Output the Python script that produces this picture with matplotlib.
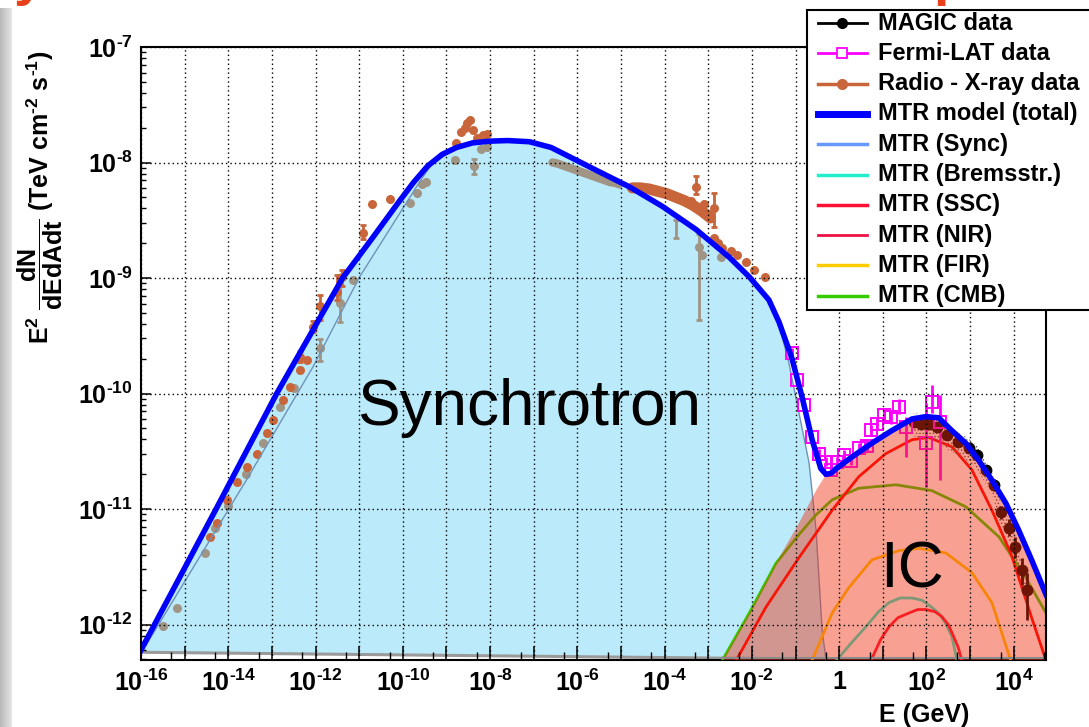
import numpy as np
import matplotlib
matplotlib.use('Agg')
import matplotlib.pyplot as plt
from matplotlib.lines import Line2D
from matplotlib.patches import Rectangle
from matplotlib.ticker import FixedLocator, NullFormatter

plt.rcParams['font.family'] = ['Liberation Sans', 'DejaVu Sans']
plt.rcParams['mathtext.fontset'] = 'custom'
plt.rcParams['mathtext.rm'] = 'Liberation Sans'
plt.rcParams['mathtext.bf'] = 'Liberation Sans:bold'
plt.rcParams['mathtext.it'] = 'Liberation Sans:italic'
plt.rcParams['hatch.color'] = '#444444'
plt.rcParams['hatch.linewidth'] = 0.7

# ---------------- data (log10 E [GeV], log10 E^2 dN/dE [TeV cm^-2 s^-1]) ----------------
total_logE = [-16.0, -14.28, -12.89, -11.38, -10.69, -10.07, -9.75, -9.43, -9.1, -8.77, -8.4, -8.0,
              -7.6, -7.1, -6.6, -6.18, -5.5, -4.81, -4.05, -3.28, -2.52, -2.06, -1.61, -1.38, -1.19,
              -1.08, -0.85, -0.62, -0.42, -0.30, -0.18, -0.07, 0.29, 0.75, 1.21, 1.67, 1.99, 2.28,
              2.58, 2.90, 3.20, 3.50, 3.82, 4.11, 4.41, 4.74]
total_logF = [-12.22, -11.00, -10.00, -9.00, -8.65, -8.33, -8.17, -8.03, -7.93, -7.87, -7.83, -7.815,
              -7.81, -7.82, -7.87, -7.95, -8.08, -8.21, -8.38, -8.58, -8.82, -8.99, -9.19, -9.38, -9.58,
              -9.70, -10.03, -10.40, -10.65, -10.70, -10.69, -10.65, -10.55, -10.43, -10.32, -10.22, -10.20,
              -10.21, -10.32, -10.43, -10.58, -10.75, -10.95, -11.18, -11.44, -11.74]

sync_logE = [-16.0, -13.57, -12.06, -10.99, -10.07, -9.55, -9.34, -8.77, -8.4, -8.0, -7.6, -7.1, -6.6,
             -6.18, -5.5, -4.81, -4.05, -3.28, -2.52, -2.06, -1.61, -1.38, -1.15, -0.92, -0.69,
             -0.53, -0.39, -0.30]
sync_logF = [-12.25, -10.74, -9.77, -8.99, -8.44, -8.13, -8.02, -7.87, -7.83, -7.815, -7.81, -7.82, -7.87,
             -7.95, -8.08, -8.21, -8.38, -8.58, -8.82, -8.99, -9.19, -9.40, -9.74, -10.17, -10.60,
             -11.18, -12.05, -12.31]

ic_logE = [-2.68, -2.06, -1.45, -0.92, -0.53, -0.30, -0.18, -0.07, 0.29, 0.75, 1.21, 1.67, 1.99,
           2.28, 2.58, 2.90, 3.20, 3.50, 3.82, 4.11, 4.41, 4.74]
ic_logF = [-12.31, -11.90, -11.47, -11.12, -10.84, -10.70, -10.69, -10.65, -10.55, -10.43, -10.32,
           -10.22, -10.20, -10.21, -10.32, -10.43, -10.58, -10.75, -10.95, -11.18, -11.44, -11.74]

cmb_logE = [-2.68, -2.06, -1.45, -0.92, -0.53, -0.16, 0.45, 1.30, 2.12, 2.90, 3.66, 4.27, 4.74]
cmb_logF = [-12.31, -11.90, -11.47, -11.22, -11.05, -10.92, -10.82, -10.79, -10.84, -10.98, -11.24, -11.59, -11.90]

ssc_logE = [-2.36, -1.68, -0.92, -0.16, 0.45, 1.07, 1.67, 2.05, 2.58, 3.04, 3.50, 3.95, 4.41, 4.74]
ssc_logF = [-12.31, -11.85, -11.42, -11.01, -10.72, -10.52, -10.40, -10.38, -10.46, -10.66, -11.01,
            -11.40, -11.94, -12.31]

fir_logE = [-0.62, -0.16, 0.22, 0.75, 1.37, 1.83, 2.44, 3.04, 3.50, 3.93]
fir_logF = [-12.31, -11.90, -11.68, -11.44, -11.36, -11.34, -11.38, -11.55, -11.81, -12.31]

brems_logE = [-0.06, 0.30, 0.61, 0.90, 1.14, 1.40, 1.67, 1.90, 2.12, 2.30, 2.44, 2.58, 2.70]
brems_logF = [-12.31, -12.15, -12.02, -11.89, -11.81, -11.77, -11.77, -11.79, -11.85, -11.91, -11.99, -12.10, -12.31]

nir_logE = [0.73, 0.95, 1.14, 1.35, 1.60, 1.80, 1.99, 2.20, 2.35, 2.50, 2.63, 2.73, 2.81]
nir_logF = [-12.31, -12.13, -12.02, -11.94, -11.90, -11.87, -11.87, -11.89, -11.93, -12.00, -12.11, -12.20, -12.31]

radio_logE = [-14.42, -14.26, -14.03, -13.80, -13.57, -13.35, -13.12, -12.98, -12.75, -12.59, -12.36,
              -12.20, -12.36, -12.06, -11.90, -11.51, -11.40, -10.92, -10.71, -10.30,
              -8.77, -8.66, -8.58, -8.52, -8.47, -8.40, -8.31, -8.17, -8.08,
              -3.40, -3.28, -3.20, -3.10, -3.00, -2.87, -2.87, -2.78, -2.68, -2.48, -2.34, -2.13,
              -1.95, -1.70]
radio_logF = [-11.24, -11.12, -10.92, -10.77, -10.64, -10.52, -10.34, -10.23, -10.06, -9.94, -9.80,
              -9.71, -9.68, -9.42, -9.24, -9.12, -8.99, -8.61, -8.36, -8.32,
              -7.83, -7.74, -7.70, -7.66, -7.63, -7.72, -7.79, -7.76, -7.75,
              -8.33, -8.21, -8.40, -8.36, -8.45, -8.39, -8.65, -8.70, -8.74, -8.77, -8.80, -8.86,
              -8.93, -8.99]
radio_band_logE = [-4.74, -4.55, -4.35, -4.15, -3.95, -3.75, -3.55, -3.35, -3.15, -2.95]
radio_band_logF = [-8.22, -8.22, -8.23, -8.25, -8.27, -8.30, -8.33, -8.37, -8.42, -8.48]
radio_err_logE = [-12.36, -12.06, -11.90, -11.51, -11.40, -10.92, -3.28, -2.87]
radio_err_lo = [-9.73, -9.47, -9.36, -9.19, -9.07, -8.66, -8.27, -8.56]
radio_err_hi = [-9.63, -9.37, -9.15, -8.97, -8.93, -8.54, -8.12, -8.26]

grey_logE = [-15.50, -15.18, -14.54, -14.31, -14.00, -13.60, -13.20, -12.82, -12.50, -11.90, -11.45,
             -11.15, -9.84, -9.68, -9.55, -9.46, -8.81, -8.36, -8.20, -8.08,
             -3.21, -3.15, -2.70]
grey_logF = [-12.01, -11.86, -11.38, -11.16, -10.97, -10.70, -10.43, -10.12, -9.95, -9.61, -9.22,
             -9.02, -8.35, -8.26, -8.19, -8.17, -7.98, -8.03, -7.88, -7.87,
             -8.73, -8.80, -8.82]
grey_band_logE = [-6.57, -6.45, -6.30, -6.15, -6.00, -5.85, -5.70, -5.55, -5.40, -5.25, -5.10, -5.04]
grey_band_logF = [-8.00, -8.01, -8.03, -8.05, -8.07, -8.09, -8.11, -8.13, -8.15, -8.17, -8.18, -8.19]
grey_err_logE = [-11.90, -11.45, -8.36, -3.73, -3.21]
grey_err_lo = [-9.72, -9.38, -8.10, -8.65, -9.36]
grey_err_hi = [-9.53, -9.07, -7.97, -8.50, -8.62]

fermi_logE = [-1.08, -0.97, -0.81, -0.62, -0.46, -0.30, -0.19, -0.05, 0.11, 0.27, 0.45, 0.64, 0.73,
              0.86, 1.03, 1.19, 1.37, 1.53, 1.99, 2.12, 2.30]
fermi_logF = [-9.65, -9.88, -10.10, -10.38, -10.52, -10.59, -10.66, -10.59, -10.53, -10.58, -10.47,
              -10.45, -10.32, -10.26, -10.19, -10.20, -10.12, -10.29, -10.43, -10.07, -10.25]
fermi_err_lo = [-9.69, -9.92, -10.14, -10.42, -10.56, -10.63, -10.70, -10.63, -10.57, -10.62, -10.51,
                -10.50, -10.37, -10.31, -10.25, -10.26, -10.18, -10.55, -10.81, -10.17, -10.75]
fermi_err_hi = [-9.61, -9.84, -10.06, -10.34, -10.48, -10.55, -10.62, -10.55, -10.49, -10.54, -10.43,
                -10.40, -10.27, -10.21, -10.13, -10.14, -10.05, -10.20, -10.08, -9.93, -10.01]

magic_logE = [1.71, 1.88, 2.05, 2.24, 2.47, 2.73, 2.97, 3.15, 3.36, 3.54, 3.70, 3.89, 4.04, 4.18, 4.30]
magic_logF = [-10.25, -10.26, -10.26, -10.29, -10.36, -10.42, -10.47, -10.53, -10.66, -10.79, -11.03,
              -11.16, -11.33, -11.53, -11.70]
magic_err_lo = [-10.28, -10.29, -10.29, -10.32, -10.39, -10.45, -10.50, -10.57, -10.70, -10.84, -11.09,
                -11.23, -11.42, -11.66, -11.96]
magic_err_hi = [-10.22, -10.23, -10.23, -10.26, -10.33, -10.39, -10.44, -10.49, -10.62, -10.74, -10.97,
                -11.09, -11.24, -11.42, -11.55]

HYPH = '\u2010'
xtick_exps = list(range(-16, 5))
xtick_labels = [('$\\mathbf{1}$' if n == 0 else
                 r'$\mathbf{10^{%s}}$' % (str(n).replace('-', HYPH))) if n % 2 == 0 else ''
                for n in xtick_exps]
ytick_exps = list(range(-12, -6))
ytick_labels = [r'$\mathbf{10^{%s}}$' % (str(n).replace('-', HYPH)) for n in ytick_exps]

legend_labels = ['MAGIC data', 'Fermi-LAT data', 'Radio - X-ray data', 'MTR model (total)', 'MTR (Sync)',
                 'MTR (Bremsstr.)', 'MTR (SSC)', 'MTR (NIR)', 'MTR (FIR)', 'MTR (CMB)']


def p(a):
    return 10.0 ** np.asarray(a, dtype=float)


def gm(lo, hi):
    return np.sqrt(p(lo) * p(hi))


W, H = 1089, 727
fig = plt.figure(figsize=(W / 100, H / 100), dpi=100)
fig.patch.set_facecolor('white')
ax = fig.add_axes([141 / W, 67 / H, 905 / W, 613 / H])
ax.set_xscale('log')
ax.set_yscale('log')
ax.set_xlim(1e-16, 10 ** 4.74)
ax.set_ylim(10 ** -12.307, 1e-7)

BLUE_FILL = '#bbebfa'
SALMON = '#f03010'
C_TOTAL = '#0000ff'
C_SYNC = '#6699ff'
C_BREMS = '#22eecc'
C_SSC = '#ff0000'
C_NIR = '#ff1030'
C_FIR = '#ffcc00'
C_CMB = '#33cc00'
C_RADIO = '#c9653a'
C_GREY = '#a09484'
C_FERMI = '#ff00ff'

# synchrotron filled area: total curve up to where sync separates, then sync tail
te = np.array(total_logE); tf = np.array(total_logF)
se = np.array(sync_logE); sf = np.array(sync_logF)
m1 = te <= -1.38
m2 = se > -1.38
fill_e = np.concatenate([te[m1], se[m2], [se[-1], te[0]]])
fill_f = np.concatenate([tf[m1], sf[m2], [-12.31, -12.24]])
ax.fill(p(fill_e), p(fill_f), color=BLUE_FILL, lw=0, zorder=0.5)
ax.plot(p([te[0], se[-1]]), p([-12.24, -12.30]), color='#9a9a9a', lw=2.2, zorder=0.6)

# data (drawn under the IC fill)
ax.plot(p(grey_band_logE), p(grey_band_logF), color=C_GREY, lw=6, solid_capstyle='round', zorder=1.5)
ax.errorbar(p(grey_err_logE), gm(grey_err_lo, grey_err_hi),
            yerr=[gm(grey_err_lo, grey_err_hi) - p(grey_err_lo), p(grey_err_hi) - gm(grey_err_lo, grey_err_hi)],
            fmt='none', ecolor=C_GREY, elinewidth=2, capsize=2.5, capthick=2, zorder=1.5)
ax.plot(p(grey_logE), p(grey_logF), 'o', color=C_GREY, ms=6.5, mec='none', zorder=1.5)

ax.plot(p(radio_band_logE), p(radio_band_logF), color=C_RADIO, lw=8, solid_capstyle='round', zorder=1.6)
ax.errorbar(p(radio_err_logE), gm(radio_err_lo, radio_err_hi),
            yerr=[gm(radio_err_lo, radio_err_hi) - p(radio_err_lo), p(radio_err_hi) - gm(radio_err_lo, radio_err_hi)],
            fmt='none', ecolor=C_RADIO, elinewidth=2, capsize=2.5, capthick=2, zorder=1.6)
ax.plot(p(radio_logE), p(radio_logF), 'o', color=C_RADIO, ms=6.5, mec='none', zorder=1.6)

# sync component line
ax.plot(p(sync_logE), p(sync_logF), color='#6f92b8', lw=1.0, zorder=1.65)

# IC components
ax.plot(p(cmb_logE), p(cmb_logF), color=C_CMB, lw=2.0, zorder=1.7)
ax.plot(p(ssc_logE), p(ssc_logF), color=C_SSC, lw=2.0, zorder=1.7)
ax.plot(p(fir_logE), p(fir_logF), color=C_FIR, lw=2.0, zorder=1.7)
ax.plot(p(brems_logE), p(brems_logF), color=C_BREMS, lw=2.0, zorder=1.7)
ax.plot(p(nir_logE), p(nir_logF), color=C_NIR, lw=2.0, zorder=1.7)

# MAGIC systematic band + points
me = np.array(magic_logE); mf = np.array(magic_logF)
ax.fill_between(p(me), p(mf - 0.12), p(mf + 0.08), facecolor='none', edgecolor='#555555',
                hatch='.....', linewidth=0, zorder=1.72)
ax.errorbar(p(magic_logE), p(magic_logF),
            yerr=[p(magic_logF) - p(magic_err_lo), p(magic_err_hi) - p(magic_logF)],
            fmt='o', color='black', ms=7.5, elinewidth=2, capsize=0, zorder=1.75)

# Fermi-LAT
ax.errorbar(p(fermi_logE), p(fermi_logF),
            yerr=[p(fermi_logF) - p(fermi_err_lo), p(fermi_err_hi) - p(fermi_logF)],
            fmt='s', color=C_FERMI, mfc='none', mec=C_FERMI, mew=1.4, ms=8, elinewidth=2,
            capsize=0, zorder=1.8)

# IC filled area
ice = np.array(ic_logE); icf = np.array(ic_logF)
ax.fill(p(np.concatenate([ice, [ice[-1], ice[0]]])), p(np.concatenate([icf, [-12.31, -12.31]])),
        color=SALMON, alpha=0.45, lw=0, zorder=2.2)
ax.plot(p([ice[0], ice[-1], ice[-1]]), p([-12.29, -12.29, icf[-1]]), color='#8a8a8a', lw=1.5, zorder=2.25)

# total model
ax.plot(p(total_logE), p(total_logF), color=C_TOTAL, lw=4.0, zorder=3, solid_joinstyle='round')

# axes styling
ax.set_axisbelow(False)
for s in ax.spines.values():
    s.set_linewidth(1.5)
    s.set_zorder(1.0)
for k in ('top', 'left', 'right'):
    ax.spines[k].set_zorder(3.5)

ax.xaxis.set_major_locator(FixedLocator([10.0 ** n for n in xtick_exps]))
ax.set_xticklabels(xtick_labels)
ax.xaxis.set_minor_locator(FixedLocator([5 * 10.0 ** n for n in xtick_exps]))
ax.xaxis.set_minor_formatter(NullFormatter())
ax.yaxis.set_major_locator(FixedLocator([10.0 ** n for n in ytick_exps]))
ax.set_yticklabels(ytick_labels)
ax.yaxis.set_minor_locator(FixedLocator([k * 10.0 ** n for n in range(-13, -7) for k in range(2, 10)]))
ax.yaxis.set_minor_formatter(NullFormatter())
ax.tick_params(axis='x', which='major', direction='in', length=10, width=1.1, labelsize=18, pad=7,
               top=False)
ax.tick_params(axis='x', which='minor', direction='in', length=5.5, width=1.0, top=False)
ax.tick_params(axis='y', which='major', direction='in', length=7, width=1.1, labelsize=18, pad=6,
               right=False)
ax.tick_params(axis='y', which='minor', direction='in', length=3.6, width=1.0, right=False)
ax.grid(False, which='minor')
ax.grid(True, which='major', color='black', linestyle=(0, (1, 2.2)), linewidth=1.0)

# big labels
fig.text(357 / W, 1 - 425 / H, 'Synchrotron', fontsize=46, ha='left', va='baseline', color='black', zorder=6)
fig.text(880 / W, 1 - 587 / H, 'IC', fontsize=46, ha='left', va='baseline', color='black', zorder=6)

# axis titles
fig.text(40 / W, 1 - 197 / H,
         r'$\mathbf{E^{2}\ \dfrac{dN}{dEdAdt}}$ (TeV cm$^{\mathbf{' + HYPH + '2}}$ s$^{\mathbf{' + HYPH + '1}}$)',
         rotation=90, ha='center', va='center', fontsize=18, fontweight='bold')
fig.text(924 / W, 1 - 722 / H, 'E (GeV)', ha='center', va='baseline', fontsize=18, fontweight='bold')

# clipped slide title fragments and left shadow strip
fig.text(14 / W, 1 + 6 / H, 'y', color='#e8401a', fontsize=40, fontweight='bold', ha='left', va='baseline')
fig.text(933 / W, 1 + 6 / H, 'p', color='#e8401a', fontsize=40, fontweight='bold', ha='left', va='baseline')
sax = fig.add_axes([0, 0, 11 / W, 1 - 8 / H])
sax.imshow(np.linspace(0.72, 0.9, 32)[None, :], cmap='gray', vmin=0, vmax=1, aspect='auto',
           extent=[0, 1, 0, 1])
sax.set_axis_off()

# legend (drawn manually, partly outside the figure like the reference)
fig.add_artist(Rectangle((807 / W, 1 - 310 / H), 300 / W, 300 / H, transform=fig.transFigure,
                         facecolor='white', edgecolor='black', lw=1.5, zorder=10))
leg_styles = [
    dict(color='black', lw=2, marker='o', ms=7, mfc='black'),
    dict(color=C_FERMI, lw=2, marker='s', ms=7, mfc='white', mew=1.3),
    dict(color=C_RADIO, lw=2.5, marker='o', ms=7, mfc=C_RADIO),
    dict(color=C_TOTAL, lw=5),
    dict(color=C_SYNC, lw=2.5),
    dict(color=C_BREMS, lw=2.5),
    dict(color='#ff1133', lw=2.5),
    dict(color='#ee1144', lw=2.0),
    dict(color=C_FIR, lw=2.5),
    dict(color=C_CMB, lw=2.5),
]
for i, (lab, st) in enumerate(zip(legend_labels, leg_styles)):
    yy = 1 - (23 + 30.3 * i) / H
    ln = Line2D([818 / W, 867 / W], [yy, yy], transform=fig.transFigure, zorder=11,
                color=st['color'], lw=st['lw'])
    fig.add_artist(ln)
    if 'marker' in st:
        mk = Line2D([842 / W], [yy], transform=fig.transFigure, zorder=12, linestyle='none',
                    marker=st['marker'], ms=st['ms'], mfc=st['mfc'], mec=st['color'],
                    mew=st.get('mew', 1.0))
        fig.add_artist(mk)
    fig.text(878 / W, yy, lab, fontsize=17, fontweight='bold', ha='left', va='center', zorder=12)

fig.savefig('out.png', dpi=100)
